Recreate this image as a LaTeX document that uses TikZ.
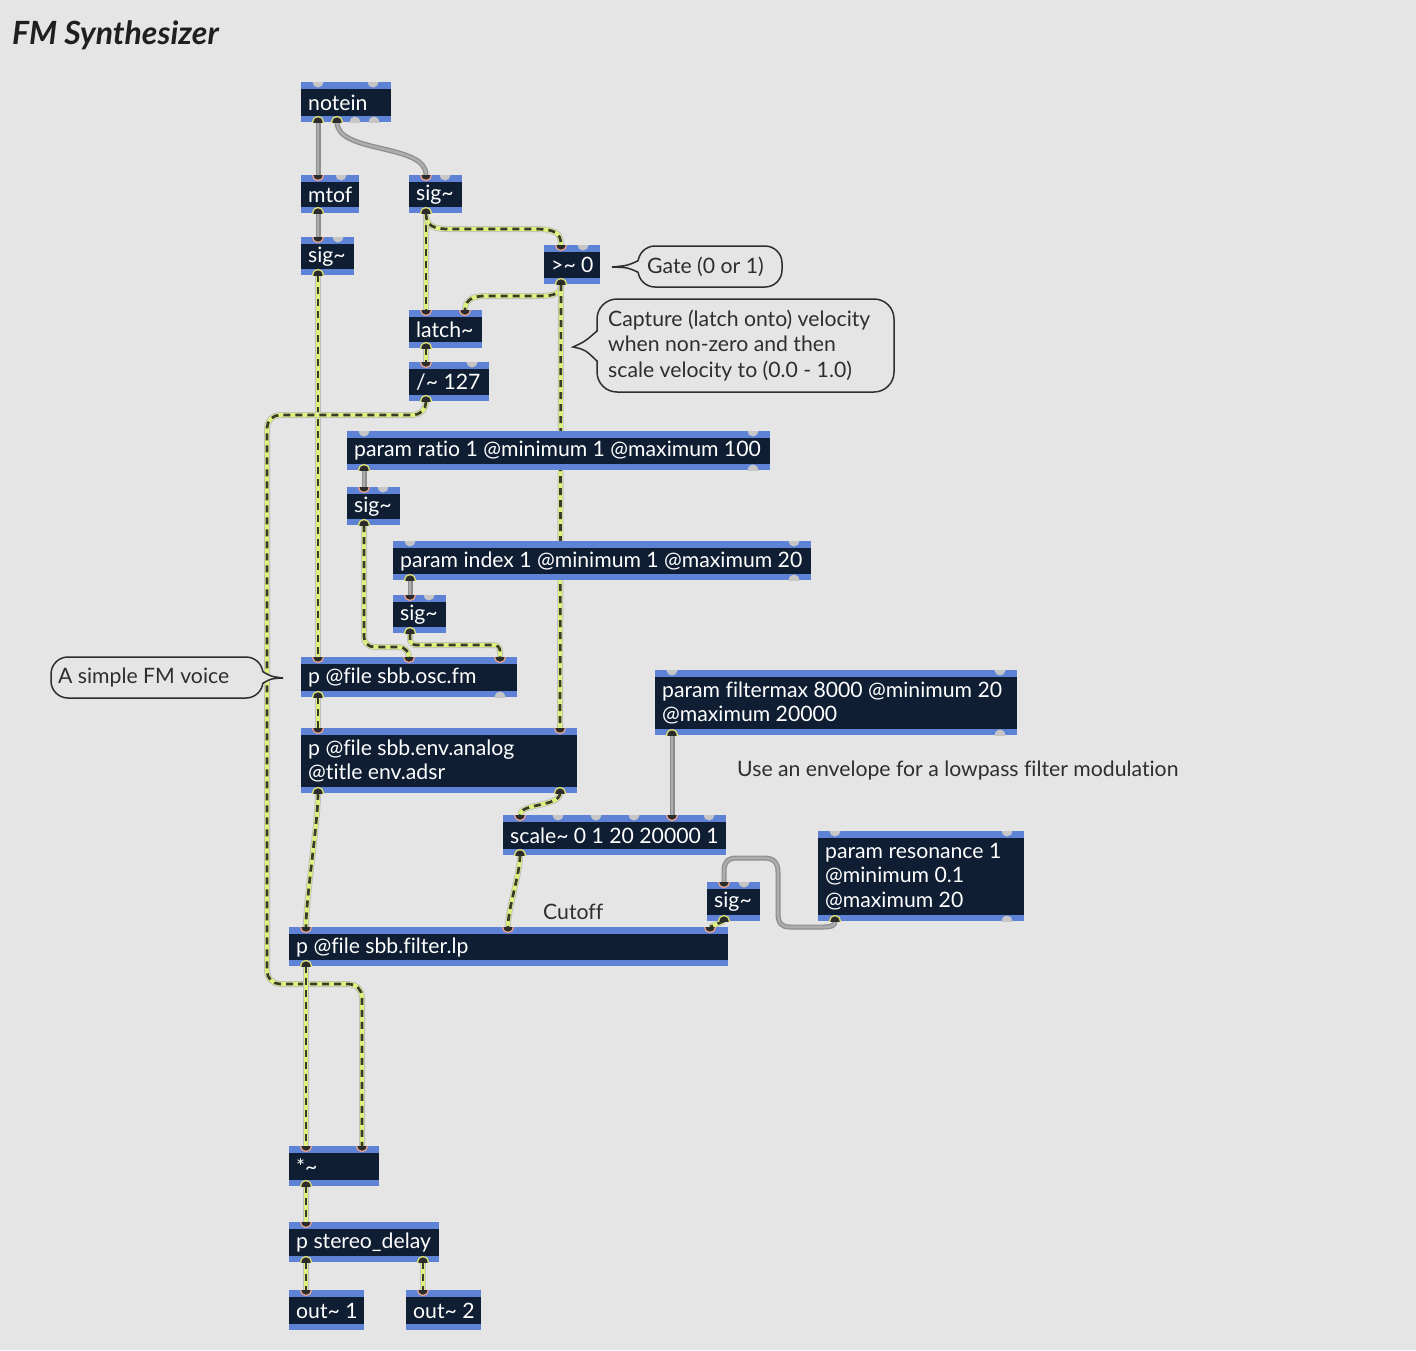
\documentclass[tikz,border=0pt]{standalone}
\usepackage{fontspec}
\setmainfont{Lato}[Ligatures=NoCommon]
\usetikzlibrary{calc}
\definecolor{bgc}{HTML}{E5E5E5}
\definecolor{navy}{HTML}{0F1E32}
\definecolor{bandc}{HTML}{5D82D6}
\definecolor{portg}{HTML}{C6C6C6}
\definecolor{portd}{HTML}{2B2B2B}
\definecolor{pinkr}{HTML}{E8A48F}
\definecolor{yelr}{HTML}{E0E070}
\definecolor{sigy}{HTML}{DDF27E}
\definecolor{sigd}{HTML}{3A3A2C}
\definecolor{txtc}{HTML}{2E2E2E}
\pgfdeclarelayer{bgl}
\pgfdeclarelayer{cab}
\pgfsetlayers{bgl,cab,main}
\newcommand\tld{\char"7E}
\newcommand\mobj[6]{%
  \node[objnode, minimum width={#4-#2}, minimum height={#5-#3}, anchor=north west] (#1) at (#2,#3) {};
  \fill[bandc] (#1.north west) rectangle ([yshift=-6.5pt]#1.north east);
  \fill[bandc] (#1.south west) rectangle ([yshift=6.5pt]#1.south east);
  \node[objtext, anchor=west] (#1-t) at ([xshift=7pt,yshift=-0.5pt]#1.west) {#6};}
\newcommand\pin[3]{%
  \begin{scope}\clip (#1.north west) rectangle (#1.south east);
  \path[pi] (#2,0 |- #1.north) circle (5.5pt);\end{scope}
  \coordinate (#3) at (#2,0 |- #1.north);}
\newcommand\pout[3]{%
  \begin{scope}\clip (#1.north west) rectangle (#1.south east);
  \path[po] (#2,0 |- #1.south) circle (5.5pt);\end{scope}
  \coordinate (#3) at (#2,0 |- #1.south);}
\newcommand\gin[2]{%
  \begin{scope}\clip (#1.north west) rectangle (#1.south east);
  \path[pg] (#2,0 |- #1.north) circle (5.5pt);\end{scope}}
\newcommand\gout[2]{%
  \begin{scope}\clip (#1.north west) rectangle (#1.south east);
  \path[pg] (#2,0 |- #1.south) circle (5.5pt);\end{scope}}
\begin{document}
\begin{tikzpicture}[x=1pt,y=-1pt,
  objnode/.style={fill=navy, draw=none, inner sep=0pt, outer sep=0pt},
  objtext/.style={text=white, inner sep=0pt, align=left, font=\fontsize{21.2}{24.8}\selectfont},
  cmt/.style={text=txtc, inner sep=0pt, align=left, font=\fontsize{21.2}{25.5}\selectfont},
  bub/.style={draw=txtc, line width=1.5pt, rounded corners=17pt, inner sep=0pt, outer sep=0pt},
  bubline/.style={draw=txtc, line width=1.5pt},
  pi/.style={fill=portd, draw=pinkr, line width=1.3pt},
  po/.style={fill=portd, draw=yelr, line width=1.3pt},
  pg/.style={fill=portg},
  sig/.style={preaction={draw=black!25, line width=6pt}, preaction={draw=sigy, line width=4.2pt},
    draw=sigd, line width=2.7pt, dash pattern=on 7pt off 5pt},
  ctl/.style={preaction={draw=black!45, line width=5pt}, draw=black!32, line width=2.6pt},
]
\begin{pgfonlayer}{bgl}
\fill[bgc] (0,0) rectangle (1416,1350);
\end{pgfonlayer}
\useasboundingbox (0,0) rectangle (1416,1350);

\node[anchor=base west, inner sep=0pt, text=black!88, font=\fontsize{32}{36}\selectfont\bfseries\itshape] (title) at (12,44) {FM Synthesizer};

% objects
\mobj{notein}{301}{82}{391}{122}{notein}
\mobj{mtof}{301}{175}{359}{213}{mtof}
\mobj{sigA}{301}{237}{354}{275}{sig\tld}
\mobj{sigB}{409}{175}{462}{213}{sig\tld}
\mobj{gt}{544}{245}{600}{284}{>\tld{} 0}
\mobj{latch}{409}{310}{482}{348}{latch\tld}
\mobj{div}{409}{362}{489}{401}{/\tld{} 127}
\mobj{ratio}{347}{431}{770}{470}{param ratio 1 @minimum 1 @maximum 100}
\mobj{sigC}{347}{487}{400}{525}{sig\tld}
\mobj{index}{393}{541}{811}{580}{param index 1 @minimum 1 @maximum 20}
\mobj{sigD}{393}{595}{446}{633}{sig\tld}
\mobj{osc}{301}{657}{517}{697}{p @file sbb.osc.fm}
\mobj{env}{301}{728}{577}{793}{p @file sbb.env.analog\\@title env.adsr}
\mobj{fmax}{655}{670}{1017}{735}{param filtermax 8000 @minimum 20\\@maximum 20000}
\mobj{scale}{503}{815}{726}{855}{scale\tld{} 0 1 20 20000 1}
\mobj{sigE}{707}{882}{760}{921}{sig\tld}
\mobj{res}{818}{831}{1024}{921}{param resonance 1\\@minimum 0.1\\@maximum 20}
\mobj{filt}{289}{927}{728}{966}{p @file sbb.filter.lp}
\mobj{mul}{289}{1146}{379}{1186}{*\tld}
\mobj{delay}{289}{1222}{439}{1262}{p stereo\_delay}
\mobj{outA}{289}{1290}{364}{1330}{out\tld{} 1}
\mobj{outB}{406}{1290}{481}{1330}{out\tld{} 2}

% ports
\gin{notein}{318}\gin{notein}{373}
\pout{notein}{318}{notein-o0}\pout{notein}{337}{notein-o1}\gout{notein}{355}\gout{notein}{374}
\pin{mtof}{318}{mtof-i0}\gin{mtof}{341}\pout{mtof}{318}{mtof-o0}
\pin{sigA}{318}{sigA-i0}\gin{sigA}{338}\pout{sigA}{318}{sigA-o0}
\pin{sigB}{426}{sigB-i0}\gin{sigB}{445}\pout{sigB}{426}{sigB-o0}
\pin{gt}{561}{gt-i0}\gin{gt}{583}\pout{gt}{561}{gt-o0}
\pin{latch}{426}{latch-i0}\pin{latch}{465}{latch-i1}\pout{latch}{426}{latch-o0}
\pin{div}{426}{div-i0}\gin{div}{472}\pout{div}{426}{div-o0}
\gin{ratio}{364}\gin{ratio}{753}\pout{ratio}{364}{ratio-o0}\gout{ratio}{753}
\pin{sigC}{364}{sigC-i0}\gin{sigC}{383}\pout{sigC}{364}{sigC-o0}
\gin{index}{410}\gin{index}{794}\pout{index}{410}{index-o0}\gout{index}{794}
\pin{sigD}{410}{sigD-i0}\gin{sigD}{429}\pout{sigD}{410}{sigD-o0}
\pin{osc}{318}{osc-i0}\pin{osc}{409}{osc-i1}\pin{osc}{500}{osc-i2}\pout{osc}{318}{osc-o0}\gout{osc}{500}
\pin{env}{318}{env-i0}\pin{env}{560}{env-i1}\pout{env}{318}{env-o0}\pout{env}{560}{env-o1}
\gin{fmax}{672}\gin{fmax}{1000}\pout{fmax}{672}{fmax-o0}\gout{fmax}{1000}
\pin{scale}{520}{scale-i0}\gin{scale}{558}\gin{scale}{596}\gin{scale}{634}\pin{scale}{672}{scale-i4}\gin{scale}{709}
\pout{scale}{520}{scale-o0}
\pin{sigE}{724}{sigE-i0}\gin{sigE}{744}\pout{sigE}{724}{sigE-o0}
\gin{res}{835}\gin{res}{1007}\pout{res}{835}{res-o0}\gout{res}{1007}
\pin{filt}{306}{filt-i0}\pin{filt}{508}{filt-i1}\pin{filt}{710}{filt-i2}\pout{filt}{306}{filt-o0}
\pin{mul}{306}{mul-i0}\pin{mul}{362}{mul-i1}\pout{mul}{306}{mul-o0}
\pin{delay}{306}{delay-i0}\pout{delay}{306}{delay-o0}\pout{delay}{423}{delay-o1}
\pin{outA}{306}{outA-i0}
\pin{outB}{423}{outB-i0}

% cables
\begin{pgfonlayer}{cab}
\draw[ctl] (notein-o0) -- (mtof-i0);
\draw[ctl] (notein-o1) .. controls +(0,32) and +(0,-32) .. (sigB-i0);
\draw[ctl] (mtof-o0) -- (sigA-i0);
\draw[sig] (sigA-o0) -- (osc-i0);
\draw[sig] (sigB-o0) -- (latch-i0);
\draw[sig] (sigB-o0) .. controls +(0,18) and +(-25,0) .. (465,229) -- (535,229) .. controls +(20,0) and +(0,-12) .. (gt-i0);
\draw[sig] (gt-o0) .. controls +(0,12) and +(15,0) .. (535,296) -- (485,296) .. controls +(-15,0) and +(0,-8) .. (latch-i1);
\draw[sig] (gt-o0) -- (env-i1);
\draw[sig] (latch-o0) -- (div-i0);
\draw[sig, rounded corners=13pt] (div-o0) -- (426,415) -- (267,415) -- (267,984) -- (362,984) -- (mul-i1);
\draw[ctl] (ratio-o0) -- (sigC-i0);
\draw[sig, rounded corners=10pt] (sigC-o0) -- (364,647) -- (409,647) -- (osc-i1);
\draw[ctl] (index-o0) -- (sigD-i0);
\draw[sig, rounded corners=6pt] (sigD-o0) -- (410,645) -- (500,645) -- (osc-i2);
\draw[sig] (osc-o0) -- (env-i0);
\draw[sig] (env-o0) .. controls +(0,30) and +(0,-30) .. (filt-i0);
\draw[sig] (env-o1) .. controls +(0,14) and +(0,-12) .. (scale-i0);
\draw[ctl] (fmax-o0) -- (scale-i4);
\draw[sig] (scale-o0) .. controls +(0,20) and +(0,-20) .. (filt-i1);
\draw[ctl] (res-o0) .. controls +(0,5) and +(8,0) .. (823,927) -- (790,927) .. controls (781,927) and (778,923) .. (778,913) -- (778,872) .. controls (778,862) and (773,858) .. (764,858) -- (737,858) .. controls (727,858) and (724,863) .. (724,871) -- (sigE-i0);
\draw[sig] (sigE-o0) -- (filt-i2);
\draw[sig] (filt-o0) -- (mul-i0);
\draw[sig] (mul-o0) -- (delay-i0);
\draw[sig] (delay-o0) -- (outA-i0);
\draw[sig] (delay-o1) -- (outB-i0);
\end{pgfonlayer}

% comments
\node[cmt, anchor=west] (usecmt) at (737,770) {Use an envelope for a lowpass filter modulation};
\node[cmt, anchor=west] (cutoff) at (543,912) {Cutoff};

\node[bub, minimum width=144pt, minimum height=41pt, anchor=north west] (gate) at (638,246) {};
\node[cmt, anchor=west] (gate-t) at ([xshift=9pt]gate.west) {Gate (0 or 1)};
\coordinate (gatetip) at (612,267);
\fill[bgc] ($(gate.west)+(2,-6)$) -- (gatetip) -- ($(gate.west)+(2,6)$) -- cycle;
\draw[bubline] ($(gate.west)+(0.5,-6)$) .. controls ($(gate.west)+(-10,-1)$) .. (gatetip) .. controls ($(gate.west)+(-10,1)$) .. ($(gate.west)+(0.5,6)$);

\node[bub, rounded corners=20pt, minimum width=297pt, minimum height=93pt, anchor=north west] (capt) at (597,299) {};
\node[cmt, anchor=west] (capt-t) at ([xshift=11pt]capt.west) {Capture (latch onto) velocity\\when non-zero and then\\scale velocity to (0.0 - 1.0)};
\coordinate (capttip) at (573,347);
\fill[bgc] ($(capt.west)+(2,-15)$) -- (capttip) -- ($(capt.west)+(2,16)$) -- cycle;
\draw[bubline] ($(capt.west)+(0.5,-15)$) .. controls ($(capt.west)+(-12,-4)$) .. (capttip) .. controls ($(capt.west)+(-12,4)$) .. ($(capt.west)+(0.5,16)$);

\node[bub, minimum width=212pt, minimum height=41pt, anchor=north west] (voice) at (51,657) {};
\node[cmt, anchor=west] (voice-t) at ([xshift=7pt]voice.west) {A simple FM voice};
\coordinate (voicetip) at (283,678);
\fill[bgc] ($(voice.east)+(-2,-6)$) -- (voicetip) -- ($(voice.east)+(-2,6)$) -- cycle;
\draw[bubline] ($(voice.east)+(-0.5,-6)$) .. controls ($(voice.east)+(8,-1)$) .. (voicetip) .. controls ($(voice.east)+(8,1)$) .. ($(voice.east)+(-0.5,6)$);
\end{tikzpicture}
\end{document}
